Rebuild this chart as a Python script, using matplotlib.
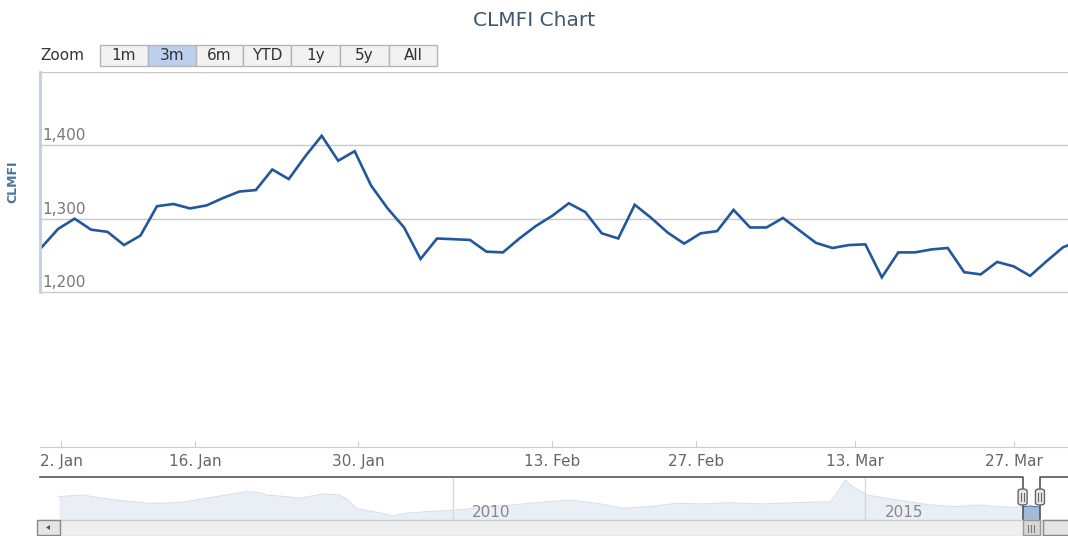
import numpy as np
import matplotlib.pyplot as plt
from matplotlib.patches import Rectangle, FancyBboxPatch, Polygon

# main series: CLMFI daily closes, one per trading day (Jan - Mar)
values = [1261, 1286, 1300, 1285, 1282, 1264, 1277, 1317, 1320, 1314,
          1318, 1328, 1337, 1339, 1367, 1354, 1385, 1413, 1379, 1392,
          1345, 1314, 1288, 1245, 1273, 1272, 1271, 1255, 1254, 1273,
          1290, 1304, 1321, 1309, 1280, 1273, 1319, 1301, 1281, 1266,
          1280, 1283, 1312, 1288, 1288, 1301, 1284, 1267, 1260, 1264,
          1265, 1220, 1254, 1254, 1258, 1260, 1227, 1224, 1241, 1235,
          1222, 1242, 1261, 1270]
day_idx = np.arange(len(values))

tick_pos = [1.2, 9.3, 19.2, 31.0, 39.7, 49.4, 59.0]
tick_labels = ["2. Jan", "16. Jan", "30. Jan", "13. Feb", "27. Feb", "13. Mar", "27. Mar"]
y_ticks = [1200, 1300, 1400, 1500]

# navigator: full history, read coarsely
nav_years = [2005.23, 2005.51, 2005.84, 2006.12, 2006.32, 2006.53, 2006.77, 2007.01,
             2007.26, 2007.50, 2007.66, 2007.74, 2007.99, 2008.14, 2008.30, 2008.42,
             2008.63, 2008.73, 2008.83, 2008.96, 2009.15, 2009.27, 2009.44, 2009.68,
             2009.93, 2010.17, 2010.41, 2010.73, 2010.93, 2011.18, 2011.42, 2011.75,
             2012.06, 2012.39, 2012.72, 2013.03, 2013.36, 2013.76, 2014.17, 2014.58,
             2014.66, 2014.76, 2014.82, 2014.92, 2015.02, 2015.18, 2015.39, 2015.79,
             2016.12, 2016.36, 2016.60, 2016.84, 2016.91, 2017.00, 2017.12]
nav_values = [1450, 1498, 1378, 1311, 1266, 1266, 1311, 1406,
              1498, 1590, 1562, 1498, 1450, 1406, 1470, 1526,
              1498, 1358, 1135, 1060, 987, 912, 987, 1032,
              1060, 1099, 1171, 1219, 1266, 1311, 1358, 1266,
              1127, 1171, 1266, 1247, 1283, 1247, 1283, 1311,
              1545, 1916, 1777, 1637, 1498, 1433, 1358, 1219,
              1171, 1219, 1171, 1154, 1171, 1190, 1160]
sel_start, sel_end = 2016.91, 2017.12
nav_year_ticks = [2010, 2015]

buttons = ["1m", "3m", "6m", "YTD", "1y", "5y", "All"]
selected_button = "3m"

W, H = 1068, 536


def fbox(x, y, w, h):
    # pixel box (top-left origin) -> figure fraction [left, bottom, width, height]
    return [x / W, 1 - (y + h) / H, w / W, h / H]


fig = plt.figure(figsize=(W / 100, H / 100), dpi=100)

fig.text(0.5, 1 - 20 / H, "CLMFI Chart", ha="center", va="center",
         fontsize=14.5, color="#3e576f")

# range selector
fig.text(40 / W, 1 - 55 / H, "Zoom", ha="left", va="center", fontsize=11, color="#333333")
edges = [100, 148, 196, 243, 291, 340, 389, 437]
for i, lab in enumerate(buttons):
    x0, x1 = edges[i], edges[i + 1]
    fc = "#bcd0ee" if lab == selected_button else "#f2f2f2"
    fig.patches.append(Rectangle((x0 / W, 1 - 66 / H), (x1 - x0) / W, 21 / H,
                                 transform=fig.transFigure, fc=fc, ec="#b5b5b5", lw=1))
    fig.text((x0 + x1) / 2 / W, 1 - 55.5 / H, lab, ha="center", va="center",
             fontsize=11, color="#333333")

# main pane
ax = fig.add_axes(fbox(40, 72, 1028, 375))
ax.plot(day_idx, values, color="#22589b", lw=1.9, solid_joinstyle="miter", clip_on=True)
ax.set_xlim(-0.1, 62.3)
ax.set_ylim(1500 - 375 * 300 / 220, 1500)
ax.set_yticks(y_ticks)
ax.set_yticklabels([])
ax.tick_params(axis="y", length=0)
ax.grid(axis="y", color="#c8c8c8", lw=1)
ax.set_axisbelow(True)
for v in y_ticks[:-1]:
    ax.annotate(f"{v:,}", xy=(0, v), xycoords=ax.get_yaxis_transform(),
                xytext=(2, 1.5), textcoords="offset points", ha="left", va="bottom",
                fontsize=11, color="#777777")
ax.set_xticks(tick_pos)
ax.set_xticklabels(tick_labels, fontsize=11, color="#666666")
ax.tick_params(axis="x", direction="in", length=4, color="#c0d0e0", pad=5)
for s in ["top", "right"]:
    ax.spines[s].set_visible(False)
ax.spines["bottom"].set_color("#c0d0e0")
ax.spines["left"].set_color("#c0d0e0")
ax.spines["left"].set_linewidth(2)
ax.spines["left"].set_bounds(1200, 1500)
ax.set_ylabel("CLMFI", fontsize=9, fontweight="bold", color="#4d759e")
ax.yaxis.set_label_coords(-21 / 1028, (1350 - ax.get_ylim()[0]) / (1500 - ax.get_ylim()[0]))

# navigator
nav = fig.add_axes(fbox(40, 477, 1028, 43))
nav.set_xlim(2005.0, 2017.46)
nav.set_ylim(800, 2000)
nav.fill_between(nav_years, nav_values, 800, color="#a3bbd7", lw=0, zorder=1)
nav.plot(nav_years, nav_values, color="#4572a7", lw=0.8, zorder=2)
nav.axvspan(2005.0, sel_start, color="white", alpha=0.78, lw=0, zorder=3)
nav.axvspan(sel_end, 2017.46, color="white", alpha=0.78, lw=0, zorder=3)
for yr in nav_year_ticks:
    nav.axvline(yr, color="#d8d8d8", lw=1, zorder=4)
    nav.annotate(str(yr), xy=(yr, 0.18), xycoords=nav.get_xaxis_transform(),
                 xytext=(14, 0), textcoords="offset points", ha="left", va="center",
                 fontsize=11, color="#888888", zorder=5)
nav.axis("off")
xt = nav.get_xaxis_transform()
nav.plot([2005.0, sel_start, sel_start], [1, 1, 0], color="#555555", lw=1.2,
         transform=xt, clip_on=False, zorder=6)
nav.plot([sel_end, sel_end, 2017.46], [0, 1, 1], color="#555555", lw=1.2,
         transform=xt, clip_on=False, zorder=6)

fig.canvas.draw()


def nav_px(year):
    # navigator data x -> image pixel x
    return nav.transData.transform((year, 0))[0]


xs, xe = nav_px(sel_start), nav_px(sel_end)

# scrollbar
fig.patches.append(Rectangle((40 / W, 0), 1028 / W, 16 / H, transform=fig.transFigure,
                             fc="#efefef", ec="#cccccc", lw=1))
fig.patches.append(Rectangle((37 / W, 1 / H), 23 / W, 15 / H, transform=fig.transFigure,
                             fc="#e4e4e4", ec="#888888", lw=1))
fig.patches.append(Polygon([(46 / W, 8.5 / H), (50 / W, 11 / H), (50 / W, 6 / H)],
                           closed=True, transform=fig.transFigure, fc="#555555", ec="none"))
fig.patches.append(Rectangle((xs / W, 1 / H), (xe - xs) / W, 15 / H, transform=fig.transFigure,
                             fc="#d8d8d8", ec="#999999", lw=1))
for dx in (-3, 0, 3):
    cx = (xs + xe) / 2 + dx
    fig.lines.append(plt.Line2D([cx / W, cx / W], [4 / H, 11 / H], transform=fig.transFigure,
                                color="#777777", lw=0.8))
fig.patches.append(Rectangle(((xe + 3) / W, 1 / H), 30 / W, 15 / H, transform=fig.transFigure,
                             fc="#e4e4e4", ec="#888888", lw=1))

# navigator handles
for hx in (xs, xe):
    fig.patches.append(FancyBboxPatch(((hx - 4.5) / W, (H - 505) / H), 9 / W, 16 / H,
                                      boxstyle="round,pad=0,rounding_size=0.004",
                                      transform=fig.transFigure, fc="#ebe7e8", ec="#666666", lw=1))
    for dx in (-1.5, 1.5):
        fig.lines.append(plt.Line2D([(hx + dx) / W] * 2, [(H - 501) / H, (H - 493) / H],
                                    transform=fig.transFigure, color="#666666", lw=0.8))

fig.savefig("out.png", dpi=100)
